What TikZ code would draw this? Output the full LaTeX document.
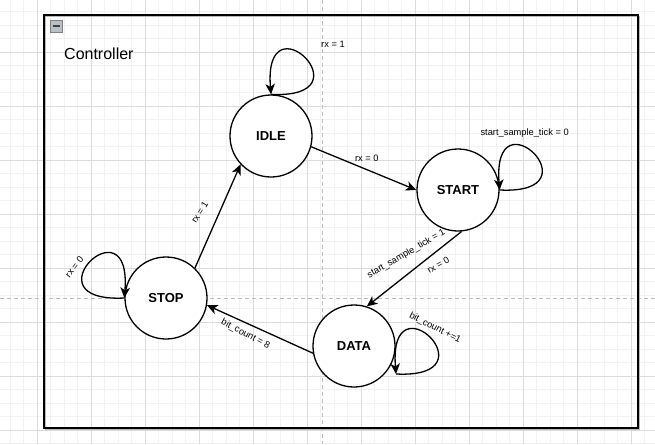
\documentclass[tikz,border=0pt]{standalone}
\usepackage{fontspec}
\setmainfont{Liberation Sans}
\usepackage{xcolor}
\usepackage{tikz}
\usetikzlibrary{arrows.meta}
\definecolor{gridminor}{RGB}{242,242,242}
\definecolor{gridmajor}{RGB}{220,220,220}
\definecolor{pagebreak}{RGB}{190,190,190}
\definecolor{iconfill}{RGB}{186,192,200}

\begin{document}
\begin{tikzpicture}[
    x = 1pt, y = -1pt, > = {Stealth[length = 10.5pt, width = 9.5pt, inset = 3pt]},
    state/.style = {
      circle, draw, line width = 1.3pt, fill = white,
      inner sep = 0pt, minimum size = 82pt,
      font = \fontsize{13}{15}\selectfont\bfseries
    },
    trans/.style = {
      arrows = ->, line width = 1.3pt
    },
    cond/.style = {
      inner sep = 1pt, font = \fontsize{9.3}{11}\selectfont
    },
    minorline/.style = {draw = gridminor, line width = 0.8pt},
    majorline/.style = {draw = gridmajor, line width = 0.8pt},
    breakline/.style = {draw = pagebreak, line width = 1pt, dash pattern = on 4pt off 3pt},
    ]

    % draw background grid
    \useasboundingbox  (0,0)  rectangle  (655,444);
    \fill  [white]  (0,0)  rectangle  (655,444);
    \foreach \gx in {10.3, 23.8, ..., 655}
    \draw  [minorline]  (\gx,0)  --  (\gx,444);
    \foreach \gy in {11.5, 25, ..., 444}
    \draw  [minorline]  (0,\gy)  --  (655,\gy);
    \foreach \gx in {37.3, 91.3, ..., 655}
    \draw  [majorline]  (\gx,0)  --  (\gx,444);
    \foreach \gy in {52, 106, ..., 444}
    \draw  [majorline]  (0,\gy)  --  (655,\gy);
    \draw  [breakline]  (322,0)  --  (322,444);
    \draw  [breakline]  (0,298)  --  (655,298);

    % draw container
    \draw  [gray!55, line width = 1.2pt]  (45.8,16.8)  rectangle  (639.8,429.8);
    \draw  [line width = 1.8pt]  (44,15)  rectangle  (638,428);
    \draw  [draw = gray, fill = iconfill]  (50,20)  rectangle  (62,32);
    \draw  [line width = 1.6pt, black!75]  (52.5,26)  --  (59.5,26);
    \node  [anchor = base west, inner sep = 0pt, font = \fontsize{16}{19}\selectfont]  (title)  at (64,59.5)  {Controller};

    % draw states
    \node  [state]  (idle)  at (271,136)  {IDLE};
    \node  [state]  (start)  at (458,190)  {START};
    \node  [state]  (data)  at (354,346)  {DATA};
    \node  [state]  (stop)  at (166,298)  {STOP};
    \coordinate  (dataloop)  at (396,374);

    % draw transitions
    \draw  [trans]  (idle.-15)  to node  [cond, shift = {(3,-10)}]  (c-idle-start)  {rx = 0}  (start.west);
    \draw  [trans]  (start.-85)  to
      node  [cond, shift = {(-8,-15)}, rotate = 30]  (c-start-data)  {start\_sample\_tick = 1}
      node  [cond, shift = {(24,-4)}, rotate = 30]  (c-start-data-rx)  {rx = 0}  (data.72);
    \draw  [trans]  (data.190)  to node  [cond, shift = {(-14.5,5)}, rotate = -28]  (c-data-stop)  {bit\_count = 8}  (stop.-10);
    \draw  [trans]  (stop.46)  to node  [cond, shift = {(-18,-4)}, rotate = 58]  (c-stop-idle)  {rx = 1}  (idle.223);

    % draw self loops
    \draw  [trans]  (idle.north)  .. controls +(100,5) and +(-8,-100) ..  (idle.north)
      node  [cond, pos = .5, shift = {(27.5,-14.4)}]  (c-idle-idle)  {rx = 1};
    \draw  [trans]  (start.east)  .. controls +(100,5) and +(-8,-100) ..  (start.east)
      node  [cond, pos = .5, shift = {(-9.5,-21.4)}]  (c-start-start)  {start\_sample\_tick = 0};
    \draw  [trans]  (dataloop)  .. controls +(100,5) and +(-8,-100) ..  (dataloop)
      node  [cond, pos = .5, shift = {(4.5,-10.4)}, rotate = -27]  (c-data-data)  {bit\_count +=1};
    \draw  [trans]  (stop.west)  .. controls +(-100,5) and +(8,-100) ..  (stop.west)
      node  [cond, pos = .5, shift = {(-15.5,4.6)}, rotate = 52]  (c-stop-stop)  {rx = 0};

\end{tikzpicture}
\end{document}
